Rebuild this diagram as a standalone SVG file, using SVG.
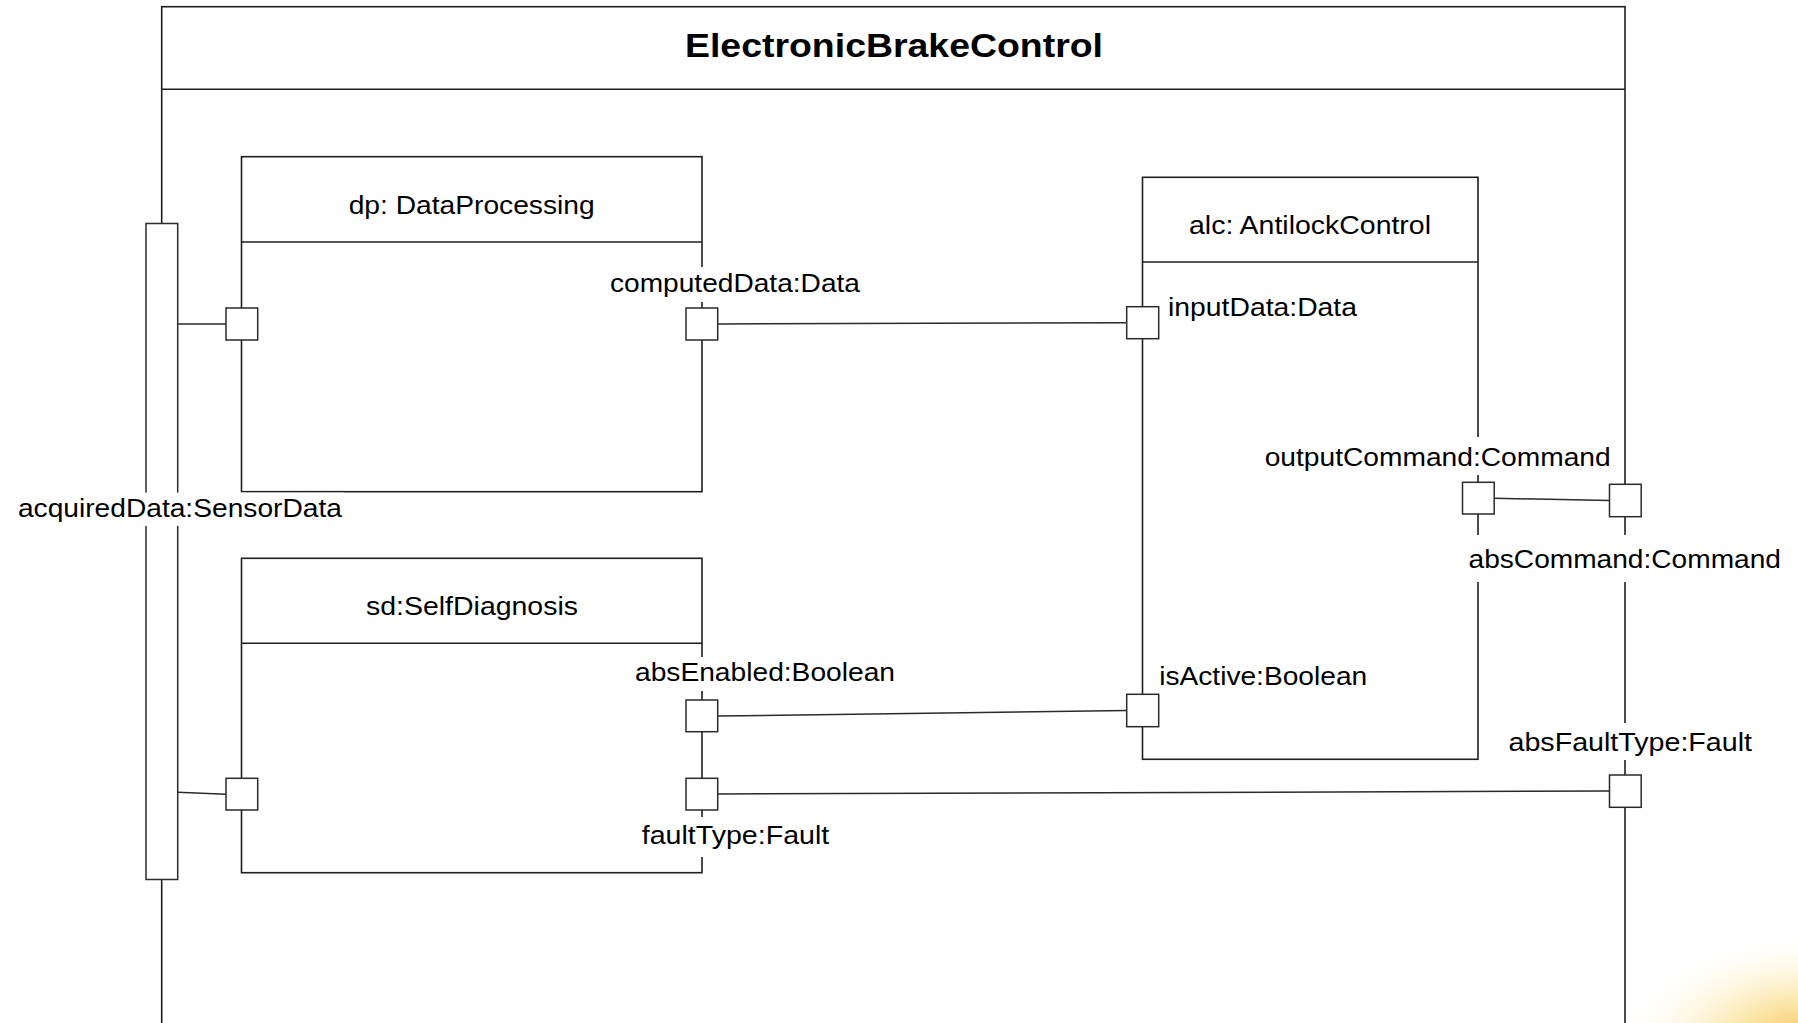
<svg xmlns="http://www.w3.org/2000/svg" width="1798" height="1023" viewBox="0 0 1798 1023">
  <style>
    .box { fill: #ffffff; stroke: #1e1e1e; stroke-width: 1.6; }
    .sep { fill: none; stroke: #1e1e1e; stroke-width: 1.6; }
    .port { fill: #ffffff; stroke: #2a2a2a; stroke-width: 1.5; }
    .wire { fill: none; stroke: #2a2a2a; stroke-width: 1.5; }
    .mask { fill: #ffffff; stroke: none; }
    .title { font-family: "Liberation Sans", Arial, sans-serif; font-size: 33px; font-weight: bold; fill: #000; }
    .name { font-family: "Liberation Sans", Arial, sans-serif; font-size: 25px; fill: #000; }
    .lbl { font-family: "Liberation Sans", Arial, sans-serif; font-size: 25px; fill: #000; }
  </style>
  <defs>
    <radialGradient id="glow" cx="1812" cy="1050" r="190" gradientUnits="userSpaceOnUse" gradientTransform="translate(1812 1050) scale(1 0.6) translate(-1812 -1050)">
      <stop offset="0" stop-color="#f0a81c" stop-opacity="0.85"/>
      <stop offset="0.45" stop-color="#f7cf5a" stop-opacity="0.5"/>
      <stop offset="1" stop-color="#fff6d8" stop-opacity="0"/>
    </radialGradient>
  </defs>

  <rect x="0" y="0" width="1798" height="1023" fill="#ffffff"/>
  <rect x="1600" y="920" width="198" height="103" fill="url(#glow)"/>

  <!-- enclosing component frame -->
  <g id="ElectronicBrakeControl">
    <rect class="box" x="161.7" y="6.7" width="1463.3" height="1040" style="fill:none"/>
    <line class="sep" x1="161.7" y1="89.3" x2="1625" y2="89.3"/>
    <text class="title" x="685" y="57" textLength="418" lengthAdjust="spacingAndGlyphs">ElectronicBrakeControl</text>
  </g>

  <!-- boundary port on the left edge of the frame -->
  <g id="acquiredData">
    <rect class="port" x="146" y="223.5" width="31.7" height="656"/>
  </g>

  <g id="dp">
    <rect class="box" x="241.5" y="156.7" width="460.5" height="335"/>
    <line class="sep" x1="241.5" y1="242" x2="702" y2="242"/>
    <text class="name" x="471.7" y="214" text-anchor="middle" textLength="246" lengthAdjust="spacingAndGlyphs">dp: DataProcessing</text>
  </g>

  <g id="alc">
    <rect class="box" x="1142.5" y="177.3" width="335.5" height="582"/>
    <line class="sep" x1="1142.5" y1="262" x2="1478" y2="262"/>
    <text class="name" x="1310" y="233.7" text-anchor="middle" textLength="242" lengthAdjust="spacingAndGlyphs">alc: AntilockControl</text>
  </g>

  <g id="sd">
    <rect class="box" x="241.5" y="558.3" width="460.5" height="314.4"/>
    <line class="sep" x1="241.5" y1="643.3" x2="702" y2="643.3"/>
    <text class="name" x="472" y="615.3" text-anchor="middle" textLength="212" lengthAdjust="spacingAndGlyphs">sd:SelfDiagnosis</text>
  </g>

  <!-- connectors between ports -->
  <g id="connectors">
    <line class="wire" x1="177.7" y1="324" x2="226" y2="324"/>
    <line class="wire" x1="718" y1="324" x2="1126.7" y2="322.7"/>
    <line class="wire" x1="1494.5" y1="498.3" x2="1609.5" y2="500.5"/>
    <line class="wire" x1="718" y1="716" x2="1126.7" y2="710.5"/>
    <line class="wire" x1="718" y1="794" x2="1609.5" y2="791"/>
    <line class="wire" x1="177.7" y1="792.3" x2="226" y2="794.3"/>
  </g>

  <!-- port labels, each on a white ground that breaks the edges behind it -->
  <g id="port-labels">
    <rect class="mask" x="608" y="267" width="254" height="35"/>
    <text class="lbl" x="610" y="291.5" textLength="250" lengthAdjust="spacingAndGlyphs">computedData:Data</text>

    <rect class="mask" x="1166" y="291" width="193" height="34"/>
    <text class="lbl" x="1168" y="316" textLength="189" lengthAdjust="spacingAndGlyphs">inputData:Data</text>

    <rect class="mask" x="1262" y="437" width="351" height="38"/>
    <text class="lbl" x="1264.7" y="465.5" textLength="346" lengthAdjust="spacingAndGlyphs">outputCommand:Command</text>

    <rect class="mask" x="1466" y="535" width="317" height="47"/>
    <text class="lbl" x="1468.5" y="568" textLength="312.5" lengthAdjust="spacingAndGlyphs">absCommand:Command</text>

    <rect class="mask" x="1157" y="658" width="212" height="36"/>
    <text class="lbl" x="1159.2" y="684.7" textLength="208" lengthAdjust="spacingAndGlyphs">isActive:Boolean</text>

    <rect class="mask" x="1506" y="723" width="248" height="37"/>
    <text class="lbl" x="1508.5" y="751" textLength="243.5" lengthAdjust="spacingAndGlyphs">absFaultType:Fault</text>

    <rect class="mask" x="16" y="492.6" width="328" height="33.4"/>
    <text class="lbl" x="17.9" y="517" textLength="324" lengthAdjust="spacingAndGlyphs">acquiredData:SensorData</text>

    <rect class="mask" x="633" y="657" width="264" height="34"/>
    <text class="lbl" x="635" y="681" textLength="260" lengthAdjust="spacingAndGlyphs">absEnabled:Boolean</text>

    <rect class="mask" x="639" y="817" width="192" height="40"/>
    <text class="lbl" x="641.7" y="844.3" textLength="187.6" lengthAdjust="spacingAndGlyphs">faultType:Fault</text>
  </g>

  <!-- ports -->
  <g id="ports">
    <rect id="dp-in" class="port" x="226" y="308" width="31.7" height="32"/>
    <rect id="computedData" class="port" x="686" y="308" width="31.7" height="32"/>
    <rect id="inputData" class="port" x="1126.7" y="306.7" width="32" height="32"/>
    <rect id="outputCommand" class="port" x="1462.5" y="482.3" width="31.7" height="31.7"/>
    <rect id="isActive" class="port" x="1126.7" y="694.3" width="32" height="32.4"/>
    <rect id="absCommand" class="port" x="1609.5" y="484.3" width="31.7" height="32.4"/>
    <rect id="absFaultType" class="port" x="1609.5" y="775" width="31.7" height="32.3"/>
    <rect id="sd-in" class="port" x="226" y="778.3" width="31.7" height="31.7"/>
    <rect id="absEnabled" class="port" x="686" y="700" width="31.7" height="31.7"/>
    <rect id="faultType" class="port" x="686" y="778.3" width="31.7" height="31.7"/>
  </g>
</svg>
